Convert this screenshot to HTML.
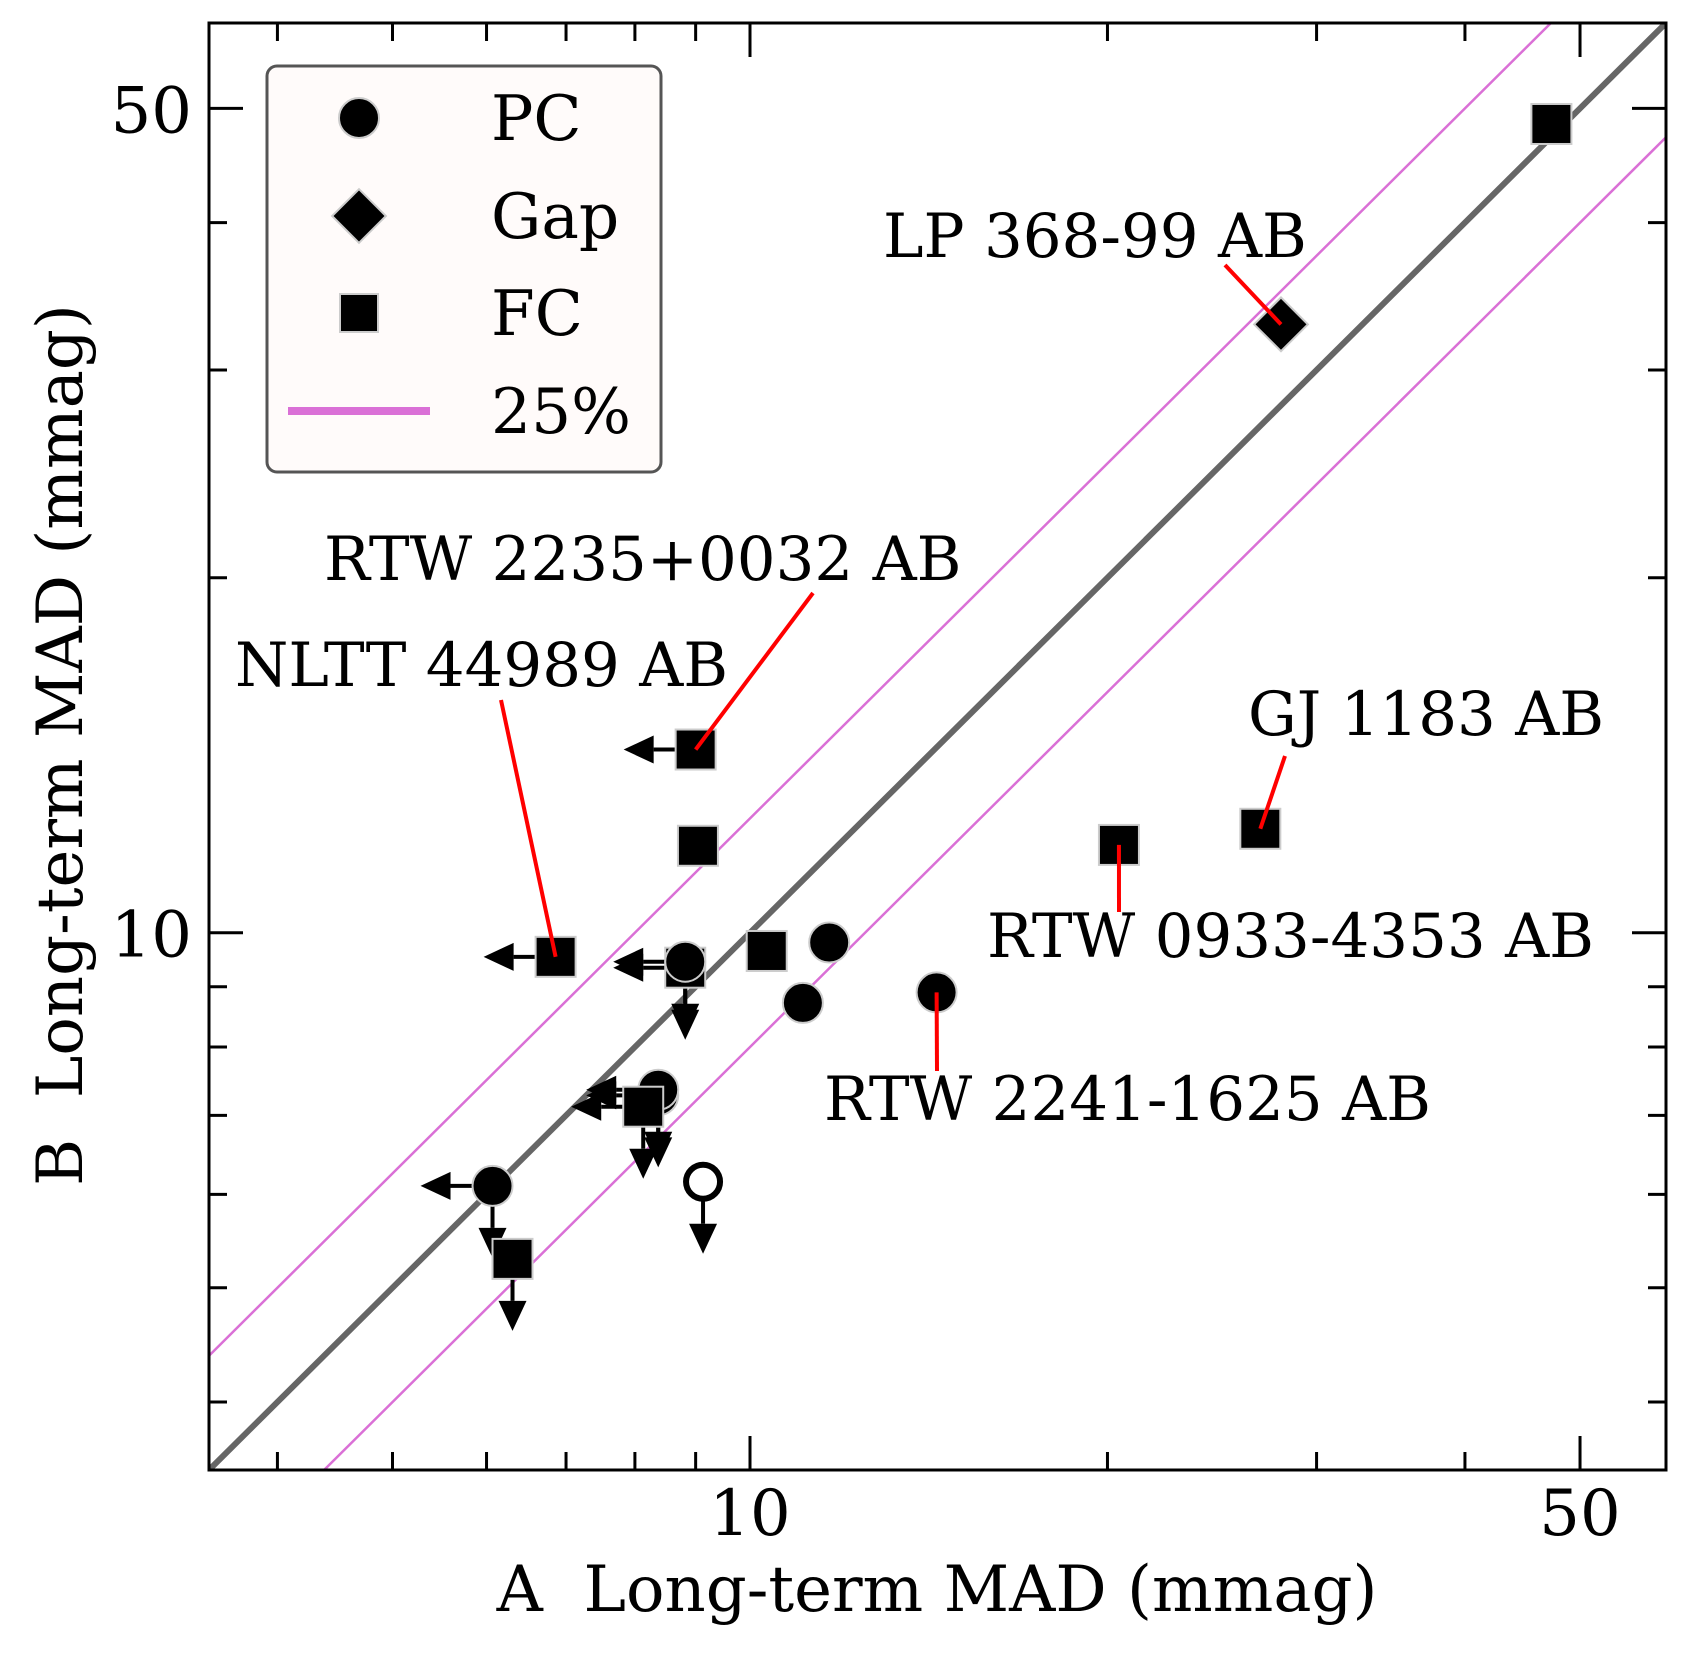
<!DOCTYPE html>
<html><head><meta charset="utf-8"><style>
body{margin:0;background:#fff}
svg text{font-family:"DejaVu Serif","Liberation Serif",serif;fill:#000}
</style></head><body>
<svg id="chart" width="1703" height="1650" xmlns="http://www.w3.org/2000/svg">
<rect width="1703" height="1650" fill="#fff"/>
<g id="lines"></g>
<g id="marks"></g>
<g id="annots"></g>
<g id="axes"></g>
<g id="legend">
  <rect x="267" y="66" width="394" height="406" rx="10" fill="#fffbfa" stroke="#555" stroke-width="3"/>
  <circle cx="359" cy="118" r="20" fill="#000" stroke="#ccc" stroke-width="2"/>
  <text x="491" y="140" font-size="63">PC</text>
  <rect x="340" y="197" width="38" height="38" transform="rotate(45 359 216)" fill="#000" stroke="#ccc" stroke-width="2"/>
  <text x="491" y="238" font-size="63">Gap</text>
  <rect x="340" y="294" width="38" height="38" fill="#000" stroke="#ccc" stroke-width="2"/>
  <text x="491" y="335" font-size="63">FC</text>
  <line x1="288" y1="411" x2="430" y2="411" stroke="#da70d6" stroke-width="8"/>
  <text x="491" y="433" font-size="63">25%</text>
</g>
</svg>
<script>
const xVals=[47.3,28.0,9.0,9.04,6.86,8.82,8.82,10.33,11.66,11.08,14.36,20.45,26.9,8.37,8.37,8.13,9.13,6.07,6.31];
const yVals=[48.5,32.8,14.3,11.85,9.54,9.34,9.45,9.65,9.81,8.72,8.90,11.87,12.25,7.28,7.36,7.12,6.15,6.10,5.29];
const kinds=['FC','Gap','FC','FC','FC','FC','PC','FC','PC','PC','PC','FC','FC','PC','PC','FC','PCo','PC','FC'];
const leftLim=[0,0,1,0,1,1,1,0,0,0,0,0,0,1,1,1,0,1,0];
const downLim=[0,0,0,0,0,1,1,0,0,0,0,0,0,1,1,1,1,1,1];
const xTicks=[10,50];
const yTicks=[10,50];
const minorTicks=[4,5,6,7,8,9,20,30,40];
const annotTexts=['LP 368-99 AB','RTW 2235+0032 AB','NLTT 44989 AB','GJ 1183 AB','RTW 0933-4353 AB','RTW 2241-1625 AB'];
const annotIdx=[1,2,4,12,11,10];

const L=209,R=1666,T=23,B=1470,MIN=3.503,MAX=59.07;
const lmin=Math.log10(MIN),lmax=Math.log10(MAX);
const X=v=>L+(Math.log10(v)-lmin)/(lmax-lmin)*(R-L);
const Y=v=>B-(Math.log10(v)-lmin)/(lmax-lmin)*(B-T);
const NS='http://www.w3.org/2000/svg';
function mk(tag,attrs,parent){const e=document.createElementNS(NS,tag);for(const k in attrs)e.setAttribute(k,attrs[k]);parent.appendChild(e);return e;}
const gL=document.getElementById('lines'),gM=document.getElementById('marks'),gA=document.getElementById('annots'),gX=document.getElementById('axes');

const refs=[[1,'#666',6,'one-to-one-line'],[1.25,'#da70d6',2.5,'plus-25pct-line'],[0.8,'#da70d6',2.5,'minus-25pct-line']];
mk('clipPath',{id:'clip'},gL).appendChild(document.createElementNS(NS,'rect'));
const cr=gL.querySelector('#clip rect');cr.setAttribute('x',L);cr.setAttribute('y',T);cr.setAttribute('width',R-L);cr.setAttribute('height',B-T);
refs.forEach(r=>{
  const l=mk('line',{x1:X(MIN),y1:Y(MIN*r[0]),x2:X(MAX),y2:Y(MAX*r[0]),stroke:r[1],'stroke-width':r[2],'clip-path':'url(#clip)'},gL);
  
  
});

function arrow(x,y,dir){
  const len=72,hw=14,hl=30;
  const g=mk('g',{},gM);
  
  
  if(dir==='left'){
    mk('line',{x1:x,y1:y,x2:x-len+hl,y2:y,stroke:'#000','stroke-width':4},g);
    mk('polygon',{points:`${x-len},${y} ${x-len+hl},${y-hw} ${x-len+hl},${y+hw}`,fill:'#000'},g);
  }else{
    mk('line',{x1:x,y1:y,x2:x,y2:y+len-hl,stroke:'#000','stroke-width':4},g);
    mk('polygon',{points:`${x},${y+len} ${x-hw},${y+len-hl} ${x+hw},${y+len-hl}`,fill:'#000'},g);
  }
}
xVals.forEach((xv,i)=>{
  const x=X(xv),y=Y(yVals[i]);
  if(leftLim[i])arrow(x,y,'left');
  if(downLim[i])arrow(x,y,'down');
});
xVals.forEach((xv,i)=>{
  const x=X(xv),y=Y(yVals[i]);let e;
  if(kinds[i]==='FC')e=mk('rect',{x:x-20,y:y-20,width:40,height:40,fill:'#000',stroke:'#ccc','stroke-width':2},gM);
  else if(kinds[i]==='Gap')e=mk('rect',{x:x-19,y:y-19,width:38,height:38,transform:`rotate(45 ${x} ${y})`,fill:'#000',stroke:'#ccc','stroke-width':2},gM);
  else if(kinds[i]==='PCo')e=mk('circle',{cx:x,cy:y,r:17,fill:'#fff',stroke:'#000','stroke-width':6},gM);
  else e=mk('circle',{cx:x,cy:y,r:20,fill:'#000',stroke:'#ccc','stroke-width':2},gM);
  
  
});

const annotPos=[[883,257,1225,265],[324,580,813,593],[235,686,501,700],[1248,735,1285,756],[987,957,1119,912],[824,1120,937,1071]];
annotTexts.forEach((t,k)=>{
  const i=annotIdx[k],p=annotPos[k];
  const ln=mk('line',{x1:p[2],y1:p[3],x2:X(xVals[i]),y2:Y(yVals[i]),stroke:'#f00','stroke-width':4},gA);
  
  
  const tx=mk('text',{x:p[0],y:p[1],'font-size':61},gA);tx.textContent=t;
  
  
});

const fr=mk('rect',{x:L,y:T,width:R-L,height:B-T,fill:'none',stroke:'#000','stroke-width':3},gX);


function ticks(vals,len){
  vals.forEach(v=>{
    const x=X(v),y=Y(v);
    mk('line',{x1:x,y1:B,x2:x,y2:B-len,stroke:'#000','stroke-width':3},gX);
    mk('line',{x1:x,y1:T,x2:x,y2:T+len,stroke:'#000','stroke-width':3},gX);
    mk('line',{x1:L,y1:y,x2:L+len,y2:y,stroke:'#000','stroke-width':3},gX);
    mk('line',{x1:R,y1:y,x2:R-len,y2:y,stroke:'#000','stroke-width':3},gX);
  });
}
ticks(minorTicks,18);ticks(xTicks,34);
xTicks.forEach(v=>{const t=mk('text',{x:X(v),y:1535,'font-size':64,'text-anchor':'middle'},gX);t.textContent=v;
  
  });
yTicks.forEach(v=>{const t=mk('text',{x:192,y:Y(v)+24,'font-size':64,'text-anchor':'end'},gX);t.textContent=v;
  
  });
const xt=mk('text',{x:937,y:1611,'font-size':64,'text-anchor':'middle'},gX);xt.textContent='A\u00a0 Long-term MAD (mmag)';


const yt=mk('text',{x:0,y:0,'font-size':64,'text-anchor':'middle','transform':'translate(82 745) rotate(-90)'},gX);yt.textContent='B\u00a0 Long-term MAD (mmag)';


</script>
</body></html>
